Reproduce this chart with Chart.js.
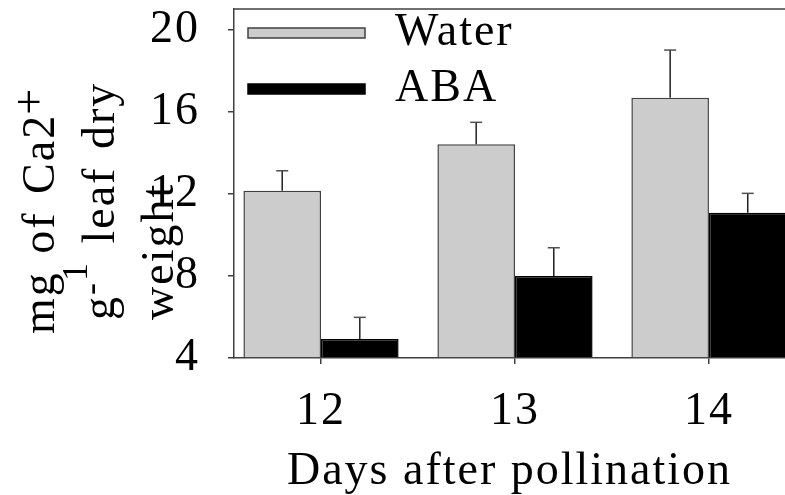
<!DOCTYPE html>
<html>
<head>
<meta charset="utf-8">
<style>
  html, body { margin: 0; padding: 0; background: #ffffff; }
  #wrap { width: 785px; height: 495px; }
</style>
<script src="https://cdn.jsdelivr.net/npm/chart.js@4/dist/chart.umd.min.js"></script>
</head>
<body>
<div id="wrap"><canvas id="c" width="785" height="495"></canvas></div>
<script>
// Calcium content of leaves, days after pollination
const days = [12, 13, 14];
const waterMeans = [12.15, 14.41, 16.68];
const waterErr = [0.97, 1.07, 2.32];
const abaMeans = [4.93, 7.99, 11.08];
const abaErr = [1.05, 1.38, 0.94];
const yTicks = [4, 8, 12, 16, 20];
const seriesNames = ['Water', 'ABA'];

const SERIF = '"Liberation Serif", "Times New Roman", serif';
const AXIS = '#404040';

const points = (means) => days.map((d, i) => ({ x: d, y: means[i] }));

// keep the plot frame fixed: no extra room for overhanging tick labels
const noOverhang = (s) => {
  s.paddingTop = 0; s.paddingBottom = 0; s.paddingLeft = 0; s.paddingRight = 0;
};

// Error bars (upper half only) on top of every bar
const errorBars = {
  id: 'errorBars',
  afterDatasetsDraw(chart) {
    const ctx = chart.ctx;
    const y = chart.scales.y;
    ctx.save();
    ctx.lineWidth = 1.5;
    chart.data.datasets.forEach((ds, di) => {
      const meta = chart.getDatasetMeta(di);
      meta.data.forEach((bar, i) => {
        const top = y.getPixelForValue(ds.data[i].y + ds.errors[i]);
        ctx.strokeStyle = '#202020';
        ctx.beginPath();
        ctx.moveTo(bar.x, bar.y);
        ctx.lineTo(bar.x, top);
        ctx.stroke();
        ctx.strokeStyle = '#505050';
        ctx.beginPath();
        ctx.moveTo(bar.x - 6, top);
        ctx.lineTo(bar.x + 6, top);
        ctx.stroke();
      });
    });
    ctx.restore();
  }
};

// Frame top, legend and the multi-line y-axis title
const decorations = {
  id: 'decorations',
  beforeDraw(chart) {
    chart.ctx.letterSpacing = '2px';
  },
  afterDraw(chart) {
    const ctx = chart.ctx;
    const a = chart.chartArea;
    ctx.save();
    ctx.letterSpacing = '2px';

    // top edge of the frame
    ctx.strokeStyle = AXIS;
    ctx.lineWidth = 1.5;
    ctx.beginPath();
    ctx.moveTo(a.left, a.top);
    ctx.lineTo(a.right, a.top);
    ctx.stroke();

    // legend
    const rows = [{ y: 33 }, { y: 89 }];
    chart.data.datasets.forEach((ds, i) => {
      const cy = rows[i].y;
      ctx.fillStyle = ds.backgroundColor;
      ctx.fillRect(248, cy - 5, 117, 10);
      ctx.strokeStyle = ds.borderColor;
      ctx.lineWidth = 1.5;
      ctx.strokeRect(248, cy - 5, 117, 10);
      ctx.fillStyle = '#000';
      ctx.font = '46px ' + SERIF;
      ctx.textAlign = 'left';
      ctx.textBaseline = 'middle';
      ctx.fillText(ds.label, 395, cy);
    });

    // y-axis title, three rotated lines with raised parts
    const drawLine = (baseX, startY, parts) => {
      ctx.save();
      ctx.translate(baseX, startY);
      ctx.rotate(-Math.PI / 2);
      ctx.textAlign = 'left';
      ctx.textBaseline = 'alphabetic';
      ctx.fillStyle = '#000';
      ctx.wordSpacing = '4px';
      let x = 0;
      parts.forEach(p => {
        ctx.font = (p.size || 46) + 'px ' + SERIF;
        ctx.fillText(p.t, x + (p.dx || 0), -(p.rise || 0));
        x += ctx.measureText(p.t).width + (p.dx || 0);
      });
      ctx.restore();
    };
    drawLine(54, 334, [{ t: 'mg of Ca2' }, { t: '+', size: 46, rise: 10, dx: -1 }]);
    drawLine(114, 320, [
      { t: 'g' },
      { t: '-', size: 36, rise: 12, dx: 0 },
      { t: '1', size: 36, rise: 27, dx: 0 },
      { t: ' leaf dry' }
    ]);
    drawLine(173, 320, [{ t: 'weight' }]);

    ctx.restore();
  }
};

new Chart(document.getElementById('c'), {
  type: 'bar',
  data: {
    datasets: [
      {
        label: seriesNames[0],
        data: points(waterMeans),
        errors: waterErr,
        backgroundColor: '#cccccc',
        borderColor: AXIS,
        borderWidth: 1.5,
        borderSkipped: 'bottom',
        base: 4,
        barPercentage: 1,
        categoryPercentage: 0.8
      },
      {
        label: seriesNames[1],
        data: points(abaMeans),
        errors: abaErr,
        backgroundColor: '#000000',
        borderColor: '#000000',
        borderWidth: 1.5,
        borderSkipped: 'bottom',
        base: 4,
        barPercentage: 1,
        categoryPercentage: 0.8
      }
    ]
  },
  options: {
    responsive: false,
    animation: false,
    events: [],
    layout: { padding: { top: 9, right: 0, bottom: 0, left: 0 }, autoPadding: false },
    plugins: {
      legend: { display: false },
      tooltip: { enabled: false }
    },
    scales: {
      x: {
        type: 'linear',
        offset: false,
        min: 11.5515,
        max: 14.392,
        afterBuildTicks: (s) => { s.ticks = days.map(v => ({ value: v })); },
        afterFit: (s) => { s.height = 137; noOverhang(s); },
        grid: { offset: false, drawOnChartArea: false, drawTicks: true, tickLength: 6, color: AXIS, lineWidth: 1.5 },
        border: { display: true, color: AXIS, width: 1.5 },
        ticks: {
          color: '#000',
          padding: 20,
          maxRotation: 0,
          font: { family: SERIF, size: 46 },
          callback: (v) => String(v)
        },
        title: {
          display: true,
          text: 'Days after pollination',
          color: '#000',
          font: { family: SERIF, size: 46, lineHeight: 1 },
          padding: { top: 0, bottom: 0 }
        }
      },
      y: {
        min: 4,
        max: 21,
        afterBuildTicks: (s) => { s.ticks = yTicks.map(v => ({ value: v })); },
        afterFit: (s) => { s.width = 234; noOverhang(s); },
        grid: { drawOnChartArea: false, drawTicks: true, tickLength: 6, color: AXIS, lineWidth: 1.5 },
        border: { display: true, color: AXIS, width: 1.5 },
        ticks: {
          color: '#000',
          padding: 28,
          font: { family: SERIF, size: 46 },
          callback: (v) => String(v)
        }
      }
    }
  },
  plugins: [errorBars, decorations]
});
</script>
</body>
</html>
